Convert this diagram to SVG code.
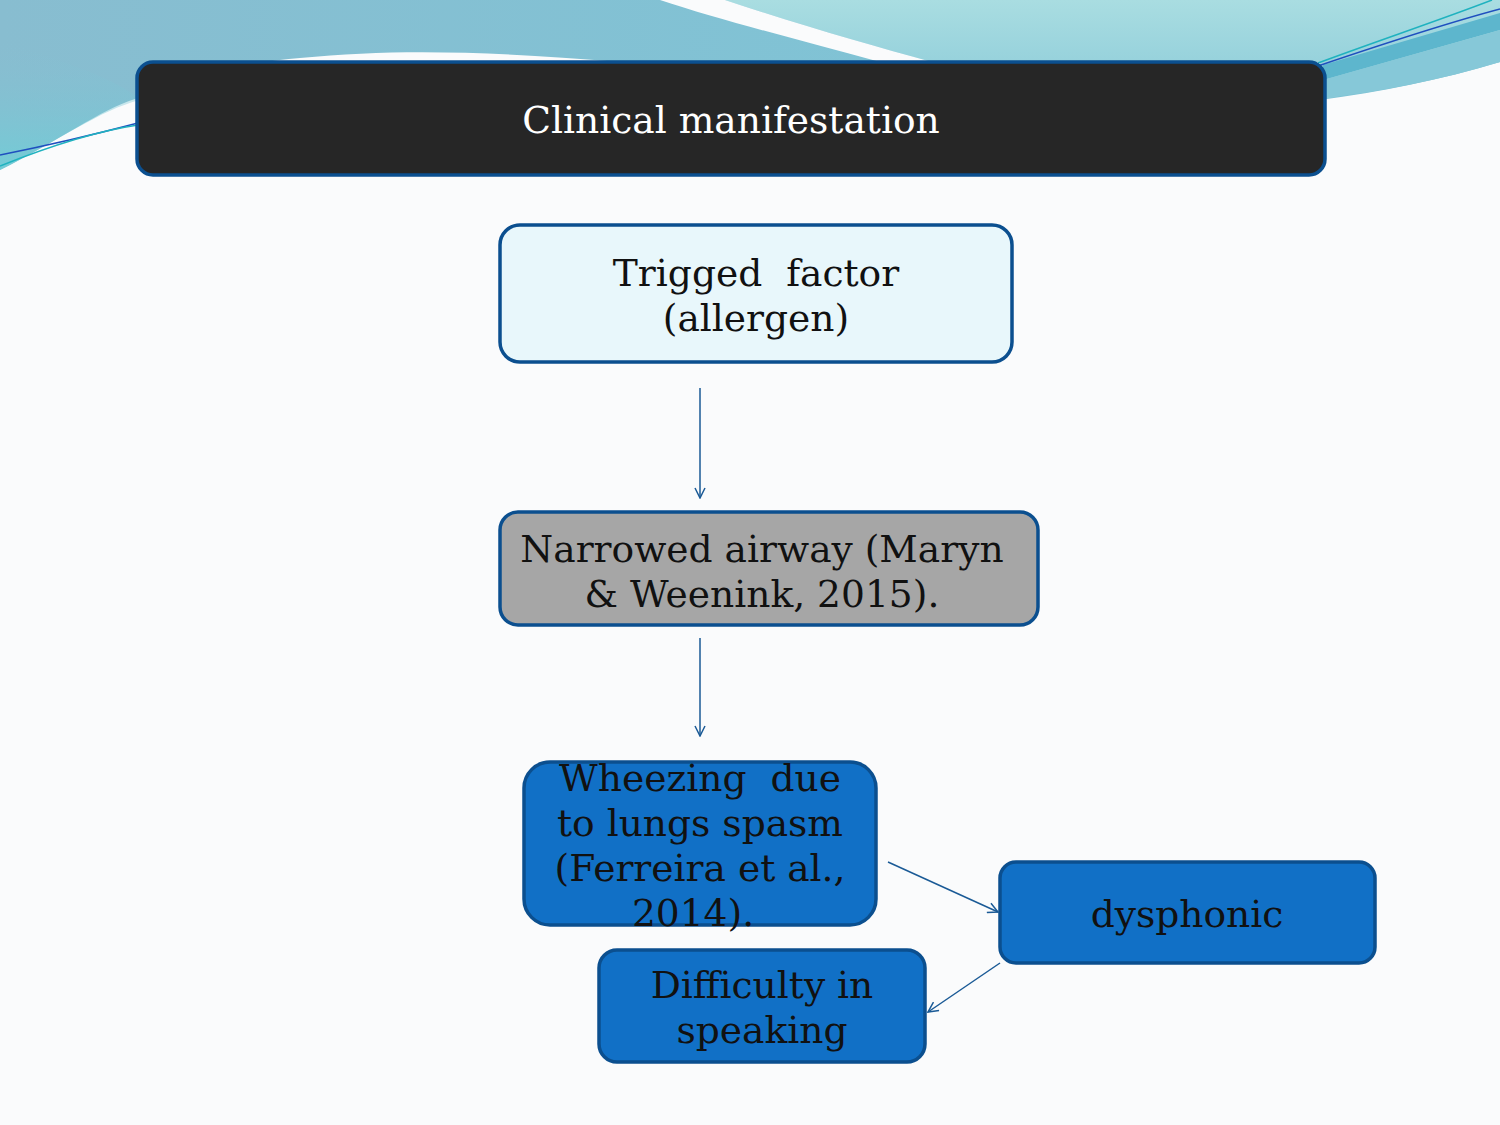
<svg xmlns="http://www.w3.org/2000/svg" width="1500" height="1125" viewBox="0 0 1500 1125">
<style>
.t{font-family:"DejaVu Serif","Liberation Serif",serif;font-size:37.6px;fill:#111;text-anchor:middle;white-space:pre}
.box{stroke:#0b4f8f;stroke-width:3.5}
.blue{fill:#1170c6}
.conn{stroke:#1a5a96;stroke-width:1.5;fill:none;marker-end:url(#ah)}
</style>
<defs>
<linearGradient id="tealL" x1="0" y1="0" x2="900" y2="0" gradientUnits="userSpaceOnUse">
<stop offset="0" stop-color="#88bdd0"/>
<stop offset="1" stop-color="#80c3d5"/>
</linearGradient>
<linearGradient id="tealV" x1="0" y1="0" x2="0" y2="1">
<stop offset="0" stop-color="#88bfd2" stop-opacity="0"/>
<stop offset="1" stop-color="#6cd0d8" stop-opacity="0.8"/>
</linearGradient>
<linearGradient id="tealR" x1="0" y1="0" x2="0" y2="1">
<stop offset="0" stop-color="#a9dde1"/>
<stop offset="1" stop-color="#8ccbd9"/>
</linearGradient>
<marker id="ah" viewBox="0 0 12 12" refX="11" refY="6" markerWidth="12" markerHeight="12" markerUnits="userSpaceOnUse" orient="auto">
<path d="M1,1 L11,6 L1,11" fill="none" stroke="#1a5a96" stroke-width="1.5"/>
</marker>
</defs>
<g id="background">
<rect width="1500" height="1125" fill="#fafbfc"/>
<path d="M0,0 H1500 V62 C1440,80 1380,92 1320,100 L1320,62 L620,62 C500,52 400,48 300,58 C250,62 190,75 135,99 C100,110 60,140 0,170 Z" fill="url(#tealL)"/>
<path d="M0,40 C60,60 120,80 140,100 C100,110 60,140 0,170 Z" fill="url(#tealV)"/>
<path d="M725,0 H1500 V62 L1320,100 L1320,62 L932,62 C870,45 800,25 725,0 Z" fill="url(#tealR)"/>
<path d="M1323,65 L1500,13 L1500,30 L1323,80 Z" fill="#5db6cd"/>
<path d="M1323,80 L1500,30 L1500,62 C1440,80 1380,92 1323,98 Z" fill="#86c8d8"/>
<path d="M660,0 L725,0 C800,25 870,45 932,62 L880,62 C800,40 720,20 660,0 Z" fill="#fafbfc"/>
<path d="M1318,63 C1380,40 1440,20 1492,0" fill="none" stroke="#1fb2bf" stroke-width="1.5"/>
<path d="M1318,66 C1380,45 1440,25 1500,9" fill="none" stroke="#1f4fbf" stroke-width="1.5"/>
<path d="M0,155 C50,145 100,133 138,123" fill="none" stroke="#1f4fbf" stroke-width="1.5"/>
<path d="M0,166 C40,150 90,132 138,125" fill="none" stroke="#1fb2bf" stroke-width="1.5"/>
</g>
<g id="title">
<rect x="137" y="62" width="1188" height="113" rx="16" fill="#262626" class="box"/>
<text x="731" y="133" class="t" style="fill:#fff">Clinical manifestation</text>
</g>
<g id="trigged">
<rect x="500" y="225" width="512" height="137" rx="20" fill="#e8f7fb" class="box"/>
<text x="756" y="286" class="t">Trigged  factor</text>
<text x="756" y="331" class="t">(allergen)</text>
</g>
<g id="narrowed">
<rect x="500" y="512" width="538" height="113" rx="18" fill="#a6a6a6" class="box"/>
<text x="762" y="562" class="t">Narrowed airway (Maryn</text>
<text x="762" y="607" class="t">&amp; Weenink, 2015).</text>
</g>
<g id="wheezing">
<rect x="524" y="762" width="352" height="163" rx="26" class="box blue"/>
<text x="700" y="791" class="t">Wheezing  due</text>
<text x="700" y="836" class="t">to lungs spasm</text>
<text x="700" y="881" class="t">(Ferreira et al.,</text>
<text x="693" y="926" class="t">2014).</text>
</g>
<g id="dysphonic">
<rect x="1000" y="862" width="375" height="101" rx="16" class="box blue"/>
<text x="1187" y="927" class="t">dysphonic</text>
</g>
<g id="difficulty">
<rect x="599" y="950" width="326" height="112" rx="18" class="box blue"/>
<text x="762" y="998" class="t">Difficulty in</text>
<text x="762" y="1043" class="t">speaking</text>
</g>
<g id="connectors">
<line x1="700" y1="388" x2="700" y2="498" class="conn"/>
<line x1="700" y1="638" x2="700" y2="736" class="conn"/>
<line x1="888" y1="862" x2="998" y2="912" class="conn"/>
<line x1="1000" y1="963" x2="928" y2="1012" class="conn"/>
</g>
</svg>
